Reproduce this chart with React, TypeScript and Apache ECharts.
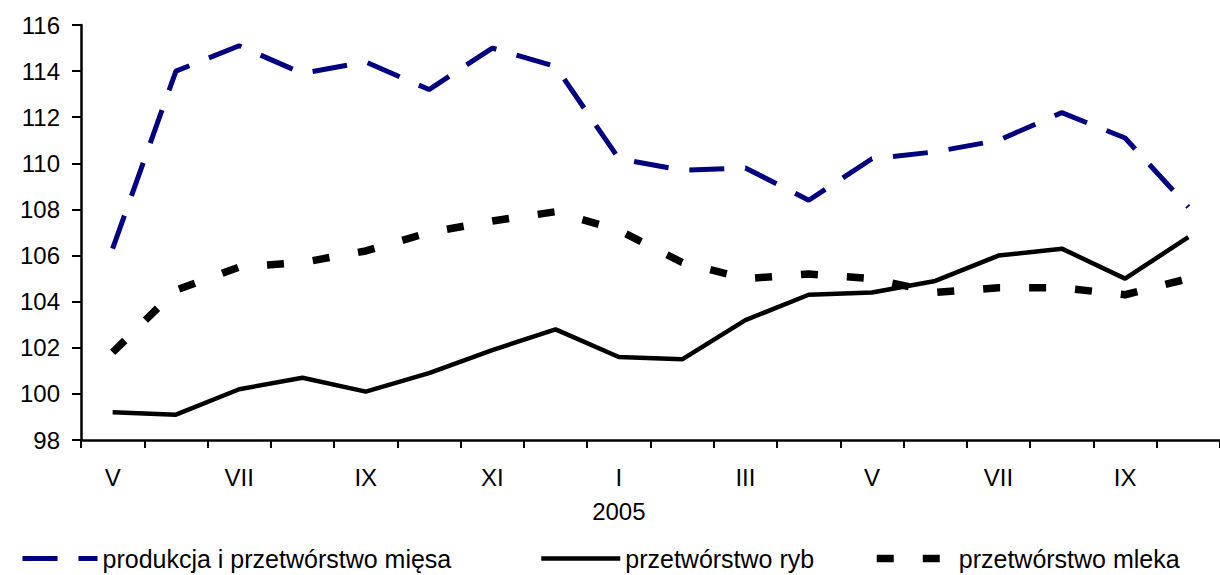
import React, { useEffect, useRef } from "react";
import * as echarts from "echarts";

const categories = ["V", "VI", "VII", "VIII", "IX", "X", "XI", "XII", "I", "II", "III", "IV", "V", "VI", "VII", "VIII", "IX", "X"];
const yearLabelIndex = 8;
const yearLabel = "2005";

const seriesNames = ["produkcja i przetwórstwo mięsa", "przetwórstwo ryb", "przetwórstwo mleka"];

const meat = [106.3, 114.0, 115.1, 113.9, 114.4, 113.2, 115.0, 114.2, 110.2, 109.7, 109.8, 108.4, 110.2, 110.5, 111.0, 112.2, 111.1, 108.1];
const fish = [99.2, 99.1, 100.2, 100.7, 100.1, 100.9, 101.9, 102.8, 101.6, 101.5, 103.2, 104.3, 104.4, 104.9, 106.0, 106.3, 105.0, 106.8];
const milk = [101.8, 104.5, 105.5, 105.7, 106.2, 107.0, 107.5, 107.9, 107.1, 105.7, 105.0, 105.2, 105.0, 104.4, 104.6, 104.6, 104.3, 105.0];

const yMin = 98;
const yMax = 116;
const yStep = 2;

const FONT = "'Liberation Sans', Arial, sans-serif";

export default function App() {
  const ref = useRef<HTMLDivElement>(null);

  useEffect(() => {
    if (!ref.current) return;
    const chart = echarts.init(ref.current, undefined, { renderer: "svg" });
    const textStyle = { fontFamily: FONT, fontSize: 25, color: "#000" };
    const hiddenSymbol = { color: "transparent", borderWidth: 0, opacity: 0 };
    const meatDash = [35, 21];
    const milkDash = [17, 29];
    chart.setOption({
      animation: false,
      backgroundColor: "#fff",
      grid: { left: 81, right: 0, top: 25, bottom: 135, containLabel: false },
      xAxis: {
        type: "category",
        data: categories,
        boundaryGap: true,
        axisLine: { lineStyle: { color: "#000", width: 2.5 } },
        axisTick: { show: true, interval: 0, length: 8, lineStyle: { color: "#000", width: 2 } },
        axisLabel: {
          interval: 1,
          margin: 20,
          fontFamily: FONT,
          fontSize: 24,
          color: "#000",
          lineHeight: 34,
          formatter: (v: string, i: number) => (i === yearLabelIndex ? v + "\n" + yearLabel : v),
        },
        splitLine: { show: false },
      },
      yAxis: {
        type: "value",
        min: yMin,
        max: yMax,
        interval: yStep,
        axisLine: { show: true, lineStyle: { color: "#000", width: 2.5 } },
        axisTick: { show: true, length: 9, lineStyle: { color: "#000", width: 2 } },
        axisLabel: { margin: 21, fontFamily: FONT, fontSize: 24, color: "#000" },
        splitLine: { show: false },
      },
      legend: [
        {
          data: [seriesNames[0]],
          left: 20,
          top: 546,
          itemWidth: 75,
          itemHeight: 14,
          itemGap: 0,
          padding: 0,
          textStyle,
          itemStyle: hiddenSymbol,
          lineStyle: { width: 5, type: meatDash, color: "#000080" },
        },
        {
          data: [seriesNames[1]],
          left: 539,
          top: 546,
          itemWidth: 79,
          itemHeight: 14,
          itemGap: 0,
          padding: 0,
          textStyle,
          itemStyle: hiddenSymbol,
          lineStyle: { width: 4.5, type: "solid", color: "#000" },
        },
        {
          data: [seriesNames[2]],
          left: 873,
          top: 546,
          itemWidth: 77,
          itemHeight: 14,
          itemGap: 0,
          padding: 0,
          textStyle,
          itemStyle: hiddenSymbol,
          lineStyle: { width: 7.5, type: milkDash, color: "#000" },
        },
      ],
      series: [
        {
          name: seriesNames[0],
          type: "line",
          data: meat,
          symbol: "none",
          lineStyle: { color: "#000080", width: 5, type: meatDash, cap: "butt" },
          itemStyle: { color: "#000080" },
        },
        {
          name: seriesNames[1],
          type: "line",
          data: fish,
          symbol: "none",
          lineStyle: { color: "#000", width: 4.5, type: "solid" },
          itemStyle: { color: "#000" },
        },
        {
          name: seriesNames[2],
          type: "line",
          data: milk,
          symbol: "none",
          lineStyle: { color: "#000", width: 7.5, type: milkDash, cap: "butt" },
          itemStyle: { color: "#000" },
        },
      ],
    });
    return () => chart.dispose();
  }, []);

  return (
    <div
      ref={ref}
      style={{ position: "absolute", left: 0, top: 0, width: 1220, height: 575, background: "#fff" }}
    />
  );
}
